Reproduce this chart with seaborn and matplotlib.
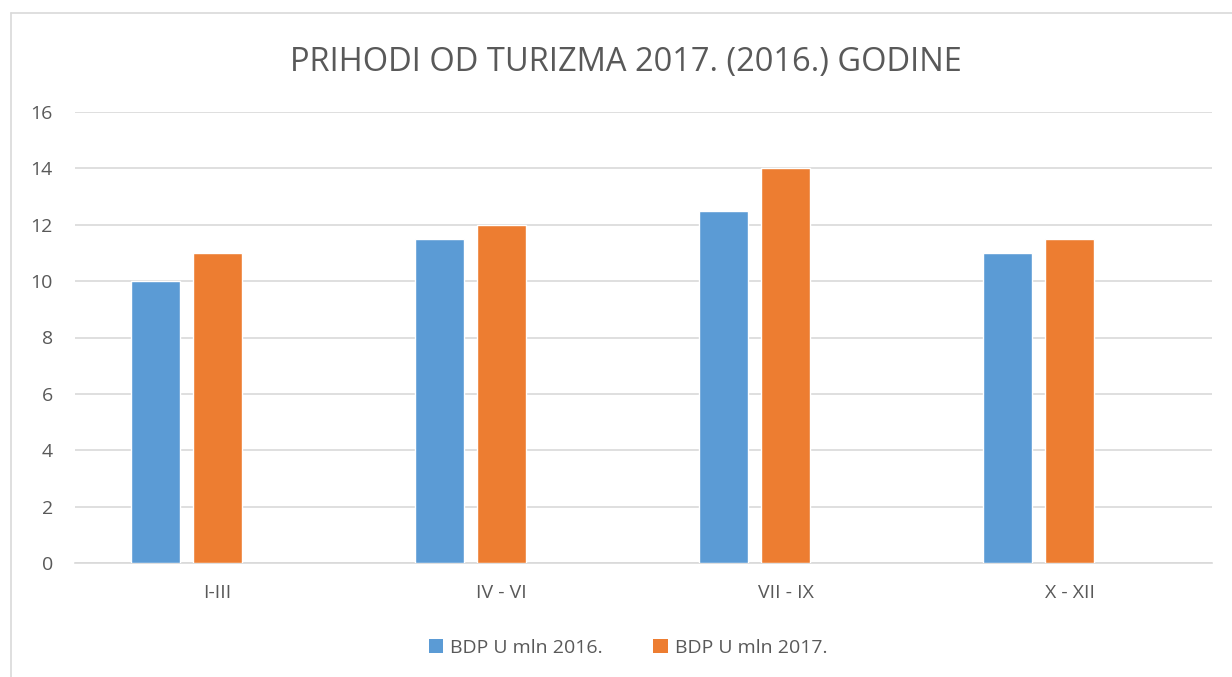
import matplotlib
matplotlib.use("Agg")
import matplotlib.pyplot as plt
import seaborn as sns
import pandas as pd
from matplotlib.patches import Patch
from matplotlib.lines import Line2D

categories = ["I-III", "IV - VI", "VII - IX", "X - XII"]
series_names = ["BDP U mln 2016.", "BDP U mln 2017."]
values_2016 = [10, 11.5, 12.5, 11]
values_2017 = [11, 12, 14, 11.5]
yticks = [0, 2, 4, 6, 8, 10, 12, 14, 16]
title = "PRIHODI OD TURIZMA 2017. (2016.) GODINE"
colors = ["#5B9BD5", "#ED7D31"]
empty_series = "(empty)"  # empty third slot in each cluster, as in the source chart

df = pd.DataFrame({
    "cat": categories * 2,
    "series": [series_names[0]] * 4 + [series_names[1]] * 4,
    "val": values_2016 + values_2017,
})

sns.set_style("white")
plt.rcParams['font.family'] = ['Open Sans', 'DejaVu Sans']
text_color = "#595959"

fig = plt.figure(figsize=(12.32, 6.77), dpi=100)
ax = fig.add_axes([75/1232, 1 - 563/677, (1212-75)/1232, (563-112)/677])

sns.barplot(data=df, x="cat", y="val", hue="series", order=categories,
            hue_order=series_names + [empty_series],
            palette=colors + ["#A5A5A5"], width=0.654, gap=0.21,
            saturation=1, ax=ax, legend=False, zorder=3)

ax.set_xlim(-0.5, 3.5)
ax.set_ylim(0, 16)
ax.set_yticks(yticks)
ax.set_yticklabels([str(t) for t in yticks])
ax.yaxis.grid(True, color="#D9D9D9", linewidth=1.2, zorder=0)
ax.set_axisbelow(True)
for s in ["top", "right", "left"]:
    ax.spines[s].set_visible(False)
ax.spines["bottom"].set_color("#D9D9D9")
ax.spines["bottom"].set_linewidth(1.2)
ax.tick_params(axis="both", length=0, labelsize=14, colors=text_color)
ax.tick_params(axis="y", pad=16)
ax.tick_params(axis="x", pad=15)
ax.set_xlabel("")
ax.set_ylabel("")

fig.text(626/1232, 1 - 62/677, title, ha="center", va="center",
         fontsize=23.5, color=text_color)

handles = [Patch(facecolor=c, edgecolor="none") for c in colors]
fig.legend(handles, series_names, loc="center", bbox_to_anchor=(628/1232, 1 - 648/677),
           ncol=2, frameon=False, fontsize=14, labelcolor=text_color,
           handlelength=0.75, handleheight=0.75, handletextpad=0.35, columnspacing=2.6)

# chart border (left and top visible)
fig.add_artist(Line2D([11/1232, 11/1232], [0, 1 - 13/677], color="#D9D9D9", lw=1.2))
fig.add_artist(Line2D([11/1232, 1], [1 - 13/677, 1 - 13/677], color="#D9D9D9", lw=1.2))

fig.savefig("out.png", dpi=100, facecolor="white")
